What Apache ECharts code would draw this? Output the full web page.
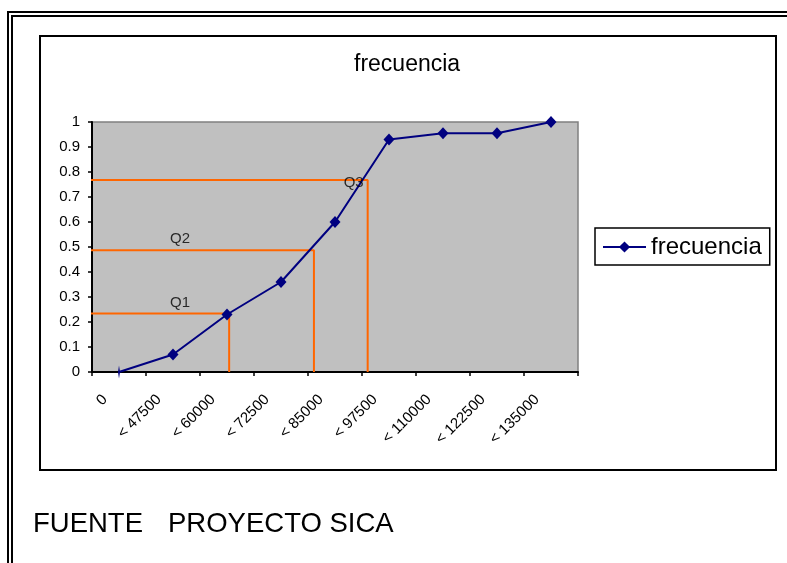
<!DOCTYPE html>
<html>
<head>
<meta charset="utf-8">
<script src="https://cdn.jsdelivr.net/npm/echarts@6/dist/echarts.min.js"></script>
<style>
html,body{margin:0;padding:0;background:#fff;}
#c{width:787px;height:563px;}
</style>
</head>
<body>
<div id="c"></div>
<script>
// ---- data ----
var categories = ['0', '< 47500', '< 60000', '< 72500', '< 85000', '< 97500', '< 110000', '< 122500', '< 135000'];
var frecuencia = [0, 0.07, 0.23, 0.36, 0.60, 0.93, 0.955, 0.955, 1.0];
var quartileNames = ['Q1', 'Q2', 'Q3'];
var quartileY = [0.234, 0.487, 0.768];
var quartileX = [2.04, 3.61, 4.605];   // position along the category scale (index units)
var yTicks = [0, 0.1, 0.2, 0.3, 0.4, 0.5, 0.6, 0.7, 0.8, 0.9, 1];

var FONT = "'Liberation Sans', Arial, sans-serif";
var chart = echarts.init(document.getElementById('c'), null, {renderer: 'canvas'});

var quartileSeries = quartileNames.map(function (n, i) {
  return {
    type: 'line', xAxisIndex: 1, yAxisIndex: 0, silent: true, symbol: 'none',
    lineStyle: {color: '#FF6600', width: 2}, z: 3,
    data: [[-0.55, quartileY[i]], [quartileX[i], quartileY[i]], [quartileX[i], 0]]
  };
});
// label anchors derived from quartile data
var labelPts = [
  [1.13, quartileY[0] + 0.042],
  [1.13, quartileY[1] + 0.044],
  [quartileX[2] - 0.26, quartileY[2] - 0.011]
];
var labelSeries = {
  type: 'scatter', xAxisIndex: 1, yAxisIndex: 0, silent: true, symbolSize: 0, z: 6,
  data: labelPts.map(function (p, i) {
    return {value: p, label: {show: true, formatter: quartileNames[i]}};
  }),
  label: {position: 'inside', color: '#000', fontSize: 15, fontFamily: FONT}
};

var option = {
  backgroundColor: '#ffffff',
  animation: false,
  title: {
    text: 'frecuencia', left: 354, top: 53, padding: 0,
    textStyle: {fontSize: 23, fontWeight: 'normal', color: '#000', fontFamily: FONT}
  },
  legend: {
    left: 595, top: 228, orient: 'vertical',
    padding: [7, 8, 6, 7], borderColor: '#000', borderWidth: 1.5,
    itemWidth: 43, itemHeight: 14, itemGap: 5,
    data: ['frecuencia'],
    textStyle: {fontSize: 24, color: '#000', fontFamily: FONT}
  },
  grid: {
    left: 92, top: 122, width: 486, height: 250,
    show: true, backgroundColor: '#C0C0C0', borderColor: '#808080', borderWidth: 1.5
  },
  xAxis: [{
    type: 'category', data: categories, boundaryGap: true,
    axisLine: {onZero: false, lineStyle: {color: '#000', width: 2}},
    axisTick: {show: true, length: 4, lineStyle: {color: '#000', width: 1.5}},
    axisLabel: {interval: 0, rotate: 45, margin: 11, padding: [0, 20, 0, 0],
      color: '#000', fontSize: 15, fontFamily: FONT},
    splitLine: {show: false}
  }, {
    type: 'value', min: -0.5, max: 8.5, show: false
  }],
  yAxis: [{
    type: 'value', min: 0, max: 1, interval: 0.1,
    axisLine: {show: true, onZero: false, lineStyle: {color: '#000', width: 2}},
    axisTick: {show: true, length: 4, lineStyle: {color: '#000', width: 1.5}},
    axisLabel: {margin: 12, color: '#000', fontSize: 15, fontFamily: FONT,
      formatter: function (v) { return String(+v.toFixed(1)); }},
    splitLine: {show: false}
  }],
  series: quartileSeries.concat([labelSeries, {
    name: 'frecuencia', type: 'line', data: frecuencia, z: 5,
    symbol: 'diamond',
    symbolSize: function (v, p) { return p.dataIndex === 0 ? [2, 13] : [11, 12]; },
    showAllSymbol: true,
    lineStyle: {color: '#000080', width: 2},
    itemStyle: {color: '#000080'}
  }]),
  graphic: [
    {type: 'rect', shape: {x: 40, y: 36, width: 736, height: 434}, style: {fill: 'none', stroke: '#000', lineWidth: 2}, silent: true},
    {type: 'polyline', shape: {points: [[8, 563], [8, 12], [787, 12]]}, style: {fill: 'none', stroke: '#000', lineWidth: 2}, silent: true},
    {type: 'polyline', shape: {points: [[12, 563], [12, 16], [787, 16]]}, style: {fill: 'none', stroke: '#000', lineWidth: 2}, silent: true},
    {type: 'text', left: 33, top: 510, style: {text: 'FUENTE', fontSize: 27.5, fill: '#000', fontFamily: FONT}},
    {type: 'text', left: 168, top: 510, style: {text: 'PROYECTO SICA', fontSize: 27.5, fill: '#000', fontFamily: FONT}}
  ]
};
chart.setOption(option);
</script>
</body>
</html>
